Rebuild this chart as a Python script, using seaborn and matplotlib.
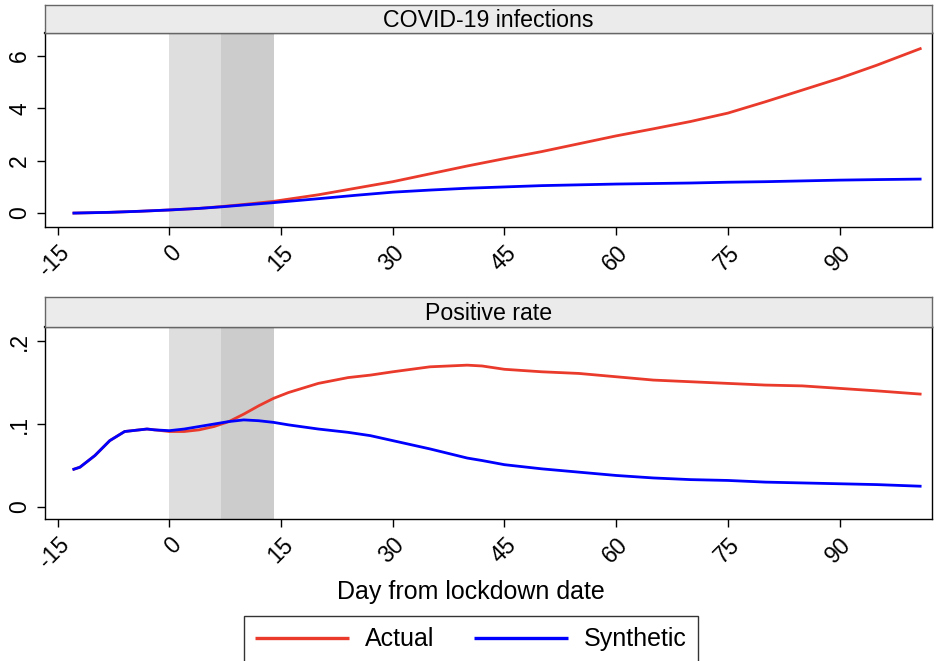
import numpy as np
import pandas as pd
import matplotlib
matplotlib.use("Agg")
import matplotlib.pyplot as plt
import seaborn as sns

# ---- data ----
days_inf = [-13, -8, -4, 0, 4, 7, 10, 14, 20, 25, 30, 35, 40, 45, 50, 55, 60, 65, 70, 75, 80, 85, 90, 95, 101]
actual_inf = [0.0, 0.03, 0.07, 0.12, 0.18, 0.25, 0.33, 0.45, 0.70, 0.95, 1.20, 1.50, 1.80, 2.08, 2.35, 2.65, 2.95, 3.22, 3.50, 3.82, 4.25, 4.70, 5.15, 5.65, 6.30]
synth_inf = [0.0, 0.03, 0.07, 0.12, 0.18, 0.24, 0.31, 0.40, 0.55, 0.68, 0.80, 0.88, 0.95, 1.00, 1.05, 1.08, 1.11, 1.13, 1.15, 1.18, 1.20, 1.23, 1.26, 1.28, 1.30]

days_pos = [-13, -12, -10, -8, -6, -4, -3, -2, 0, 2, 4, 6, 8, 10, 12, 14, 16, 20, 24, 27, 30, 35, 40, 42,
            45, 50, 55, 60, 65, 70, 75, 80, 85, 90, 95, 101]
actual_pos = [0.045, 0.048, 0.062, 0.080, 0.091, 0.093, 0.094, 0.093, 0.091, 0.091, 0.093, 0.097, 0.103, 0.112,
              0.122, 0.131, 0.138, 0.149, 0.156, 0.159, 0.163, 0.169, 0.171, 0.170, 0.166, 0.163, 0.161, 0.157,
              0.153, 0.151, 0.149, 0.147, 0.146, 0.143, 0.140, 0.136]
synth_pos = [0.045, 0.048, 0.062, 0.080, 0.091, 0.093, 0.094, 0.093, 0.092, 0.094, 0.097, 0.100, 0.103, 0.105,
             0.104, 0.102, 0.099, 0.094, 0.090, 0.086, 0.080, 0.070, 0.059, 0.056, 0.051, 0.046, 0.042, 0.038,
             0.035, 0.033, 0.032, 0.030, 0.029, 0.028, 0.027, 0.025]

phase_edges = [0, 7, 14]
x_ticks = [-15, 0, 15, 30, 45, 60, 75, 90]
panel_titles = ["COVID-19 infections", "Positive rate"]
inf_ticks = [0, 2, 4, 6]
inf_labels = ["0", "2", "4", "6"]
pos_ticks = [0, 0.1, 0.2]
pos_labels = ["0", ".1", ".2"]

inf_df = pd.concat([
    pd.DataFrame({"day": days_inf, "value": actual_inf, "series": "Actual"}),
    pd.DataFrame({"day": days_inf, "value": synth_inf, "series": "Synthetic"}),
])
pos_df = pd.concat([
    pd.DataFrame({"day": days_pos, "value": actual_pos, "series": "Actual"}),
    pd.DataFrame({"day": days_pos, "value": synth_pos, "series": "Synthetic"}),
])

sns.set_style("white")
plt.rcParams["font.family"] = ["Liberation Sans", "DejaVu Sans"]
plt.rcParams["text.color"] = "black"
plt.rcParams["xtick.color"] = "black"
plt.rcParams["ytick.color"] = "black"
plt.rcParams["lines.solid_capstyle"] = "butt"
palette = {"Actual": "#ea3a2c", "Synthetic": "#0000ff"}

fig = plt.figure(figsize=(9.39, 6.61), dpi=100)

panels = [
    (inf_df, [0.0479, 0.6566, 0.9446, 0.2935], [0.0479, 0.9501, 0.9446, 0.0424], (-0.53, 6.88), inf_ticks, inf_labels),
    (pos_df, [0.0479, 0.2148, 0.9446, 0.2905], [0.0479, 0.5053, 0.9446, 0.0454], (-0.0145, 0.217), pos_ticks, pos_labels),
]

axes = []
for (df, rect, srect, ylim, yt, yl), title in zip(panels, panel_titles):
    ax = fig.add_axes(rect)
    ax.axvspan(phase_edges[0], phase_edges[1], color="#dedede", lw=0, zorder=0)
    ax.axvspan(phase_edges[1], phase_edges[2], color="#cccccc", lw=0, zorder=0)
    sns.lineplot(data=df, x="day", y="value", hue="series", palette=palette,
                 linewidth=2.0, ax=ax, legend=False, zorder=3)
    ax.set_xlim(-16.7, 102.4)
    ax.set_ylim(*ylim)
    ax.set_xticks(x_ticks)
    ax.set_xticklabels([str(t) for t in x_ticks], rotation=45, fontsize=16.5,
                       ha="right", va="top", rotation_mode="anchor")
    ax.set_yticks(yt)
    ax.set_yticklabels(yl, rotation=90, fontsize=16.5, va="center")
    ax.tick_params(axis="both", direction="out", length=6, width=1, color="black",
                   left=True, bottom=True, pad=4)
    ax.set_xlabel("")
    ax.set_ylabel("")
    for sp in ax.spines.values():
        sp.set_color("black")
        sp.set_linewidth(1.0)
    ax.spines["top"].set_linewidth(1.6)

    sax = fig.add_axes(srect)
    sax.set_facecolor("#ebebeb")
    sax.set_xticks([])
    sax.set_yticks([])
    for sp in sax.spines.values():
        sp.set_color("#666666")
        sp.set_linewidth(1.0)
    sax.text(0.5, 0.45, title, ha="center", va="center", fontsize=16.7, transform=sax.transAxes)
    axes.append(ax)

fig.text(471 / 939, 1 - 592 / 661, "Day from lockdown date", ha="center", va="center", fontsize=18)

handles = [plt.Line2D([], [], color=palette[k], lw=2.4) for k in ["Actual", "Synthetic"]]
leg = fig.legend(handles, ["Actual", "Synthetic"], loc="upper center",
                 bbox_to_anchor=(471 / 939, 1 - 616 / 661), ncol=2, frameon=True,
                 fancybox=False, fontsize=18, handlelength=3.75, columnspacing=1.6,
                 handletextpad=0.65, borderpad=0.45, borderaxespad=0)
leg.get_frame().set_edgecolor("black")
leg.get_frame().set_linewidth(1.0)

fig.savefig("out.png", dpi=100)
